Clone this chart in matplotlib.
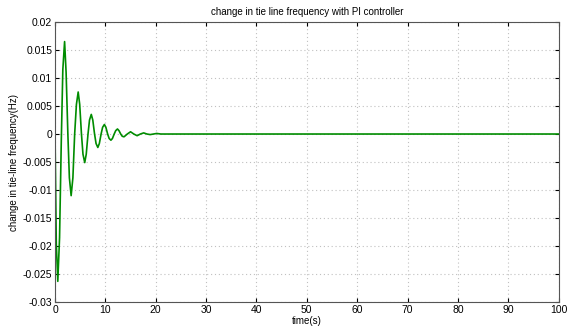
import matplotlib
matplotlib.use("Agg")
import matplotlib.pyplot as plt
from matplotlib.ticker import FuncFormatter

time_s = [0, 0.25, 0.55, 0.9, 1.25, 1.55, 1.9, 2.2, 2.55, 2.85, 3.2, 3.55, 3.9,
          4.25, 4.6, 4.9, 5.25, 5.55, 5.9, 6.2, 6.55, 6.85, 7.2, 7.5, 7.85,
          8.15, 8.5, 8.8, 9.15, 9.45, 9.8, 10.1, 10.45, 10.75, 11.1, 11.4,
          11.75, 12.05, 12.4, 12.7, 13.05, 13.35, 13.7, 14.35, 15.0, 15.65,
          16.3, 16.95, 17.6, 18.25, 18.9, 19.55, 20.2, 21.0, 30.0, 100.0]
delta_f = [0, -0.0195, -0.0263, -0.0185, -0.001, 0.0115, 0.0165, 0.0110, 0.0,
           -0.0078, -0.0110, -0.0078, 0.0, 0.0053, 0.0075, 0.0053, 0.0,
           -0.0036, -0.0051, -0.0036, 0.0, 0.0025, 0.0035, 0.0025, 0.0,
           -0.0017, -0.0024, -0.0017, 0.0, 0.0012, 0.0017, 0.0012, 0.0,
           -0.0008, -0.0011, -0.0008, 0.0, 0.0006, 0.0009, 0.0006, 0.0,
           -0.0004, -0.0005, 0.0, 0.0004, 0.0, -0.0003, 0.0, 0.0002, 0.0,
           -0.0001, 0.0, 0.0001, 0.0, 0.0, 0.0]

x_ticks = [0, 10, 20, 30, 40, 50, 60, 70, 80, 90, 100]
y_ticks = [-0.03, -0.025, -0.02, -0.015, -0.01, -0.005, 0, 0.005, 0.01, 0.015, 0.02]

plt.rcParams['font.family'] = ['Liberation Sans', 'DejaVu Sans']

fig = plt.figure(figsize=(5.69, 3.28), dpi=100)
ax = fig.add_axes([0.0967, 0.079, 0.885, 0.854])
ax.plot(time_s, delta_f, color=(0.0, 0.55, 0.0), linewidth=1.2)

ax.set_xlim(0, 100)
ax.set_ylim(-0.03, 0.02)
ax.set_xticks(x_ticks)
ax.set_yticks(y_ticks)
ax.yaxis.set_major_formatter(FuncFormatter(lambda v, p: '0' if abs(v) < 1e-12 else '%g' % v))
ax.tick_params(direction='in', labelsize=7.5, length=3, top=True, right=True, pad=2)
ax.grid(True, linestyle=(0, (1, 2.5)), color='#c0c0c0', linewidth=0.8)
for s in ax.spines.values():
    s.set_color('#555555')
    s.set_linewidth(0.8)

ax.set_title('change in tie line frequency with PI controller', fontsize=7, pad=5)
ax.set_xlabel('time(s)', fontsize=7, labelpad=1)
ax.set_ylabel('change in tie-line frequency(Hz)', fontsize=7, labelpad=3)

fig.savefig('out.png', dpi=100)
